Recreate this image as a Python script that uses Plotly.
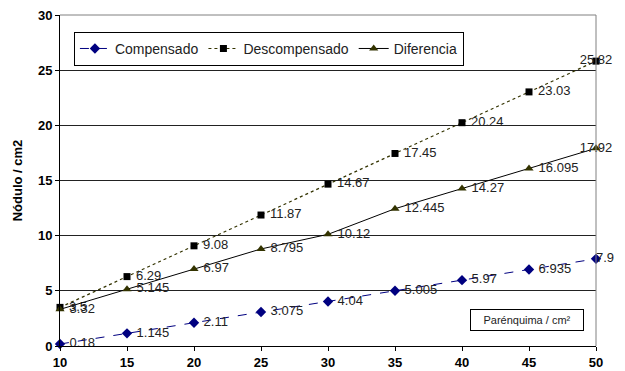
import plotly.graph_objects as go

x_vals = [10, 15, 20, 25, 30, 35, 40, 45, 50]
compensado = [0.18, 1.145, 2.11, 3.075, 4.04, 5.005, 5.97, 6.935, 7.9]
descompensado = [3.5, 6.29, 9.08, 11.87, 14.67, 17.45, 20.24, 23.03, 25.82]
diferencia = [3.32, 5.145, 6.97, 8.795, 10.12, 12.445, 14.27, 16.095, 17.92]
y_ticks = [0, 5, 10, 15, 20, 25, 30]
x_ticks = [10, 15, 20, 25, 30, 35, 40, 45, 50]

FONT = "Arial, Liberation Sans, sans-serif"
lblfont = dict(family=FONT, size=13, color="#222")
NB = "\u00a0"

def labels(vals, last_pad=""):
    out = [NB + str(v) for v in vals[:-1]]
    out.append(last_pad + str(vals[-1]))
    return out

fig = go.Figure()
fig.add_trace(go.Scatter(
    x=x_vals, y=compensado, name="Compensado", mode="lines+markers+text",
    line=dict(color="#000080", width=1, dash="dash"),
    marker=dict(symbol="diamond", size=8, color="#000080"),
    text=labels(compensado, last_pad=NB * 5),
    textposition=["middle right"] * 8 + ["middle center"],
    textfont=lblfont, cliponaxis=False))
fig.add_trace(go.Scatter(
    x=x_vals, y=descompensado, name="Descompensado", mode="lines+markers+text",
    line=dict(color="#333300", width=1.2, dash="dot"),
    marker=dict(symbol="square", size=7, color="#000000"),
    text=labels(descompensado),
    textposition=["middle right"] * 8 + ["middle center"],
    textfont=lblfont, cliponaxis=False))
fig.add_trace(go.Scatter(
    x=x_vals, y=diferencia, name="Diferencia", mode="lines+markers+text",
    line=dict(color="#000000", width=1),
    marker=dict(symbol="triangle-up", size=8, color="#333300"),
    text=labels(diferencia),
    textposition=["middle right"] * 8 + ["middle center"],
    textfont=lblfont, cliponaxis=False))

fig.add_annotation(
    x=0.871, y=0.08, xref="paper", yref="paper", text="Parénquima / cm²",
    xanchor="center", yanchor="middle",
    showarrow=False, font=dict(family=FONT, size=11, color="#222"),
    bordercolor="#000", borderwidth=1, borderpad=3, bgcolor="white",
    width=106, height=14)

fig.update_layout(
    width=625, height=371,
    margin=dict(l=60, r=29, t=15, b=25),
    paper_bgcolor="white", plot_bgcolor="white",
    showlegend=True,
    legend=dict(orientation="h", x=0.026, y=0.949, xanchor="left", yanchor="top",
                bordercolor="#000", borderwidth=1, bgcolor="white",
                font=dict(family=FONT, size=14, color="#222"),
                tracegroupgap=0),
    xaxis=dict(range=[10, 50], tickvals=x_ticks, showgrid=False, zeroline=False,
               showline=True, linecolor="#000", linewidth=1, mirror=False,
               ticks="outside", ticklen=4, tickcolor="#000", automargin=False,
               tickfont=dict(family=FONT, size=13, color="#000", weight="bold")),
    yaxis=dict(range=[0, 30], tickvals=y_ticks, showgrid=True, gridcolor="#222",
               gridwidth=1, zeroline=False, showline=True, linecolor="#000",
               linewidth=1, ticks="outside", ticklen=4, tickcolor="#000",
               automargin=False,
               tickfont=dict(family=FONT, size=13, color="#000", weight="bold"),
               title=dict(text="Nódulo / cm2", standoff=12,
                          font=dict(family=FONT, size=13, color="#000", weight="bold"))),
    font=dict(family=FONT),
)
# gray top/right border
fig.add_shape(type="line", xref="paper", yref="paper", x0=0, x1=1, y0=1, y1=1,
              line=dict(color="#808080", width=1))
fig.add_shape(type="line", xref="paper", yref="paper", x0=1, x1=1, y0=0, y1=1,
              line=dict(color="#808080", width=1))

fig.write_html("out.html", config={"displayModeBar": False},
               post_script="document.body.style.margin='0';document.body.style.overflow='hidden';")
